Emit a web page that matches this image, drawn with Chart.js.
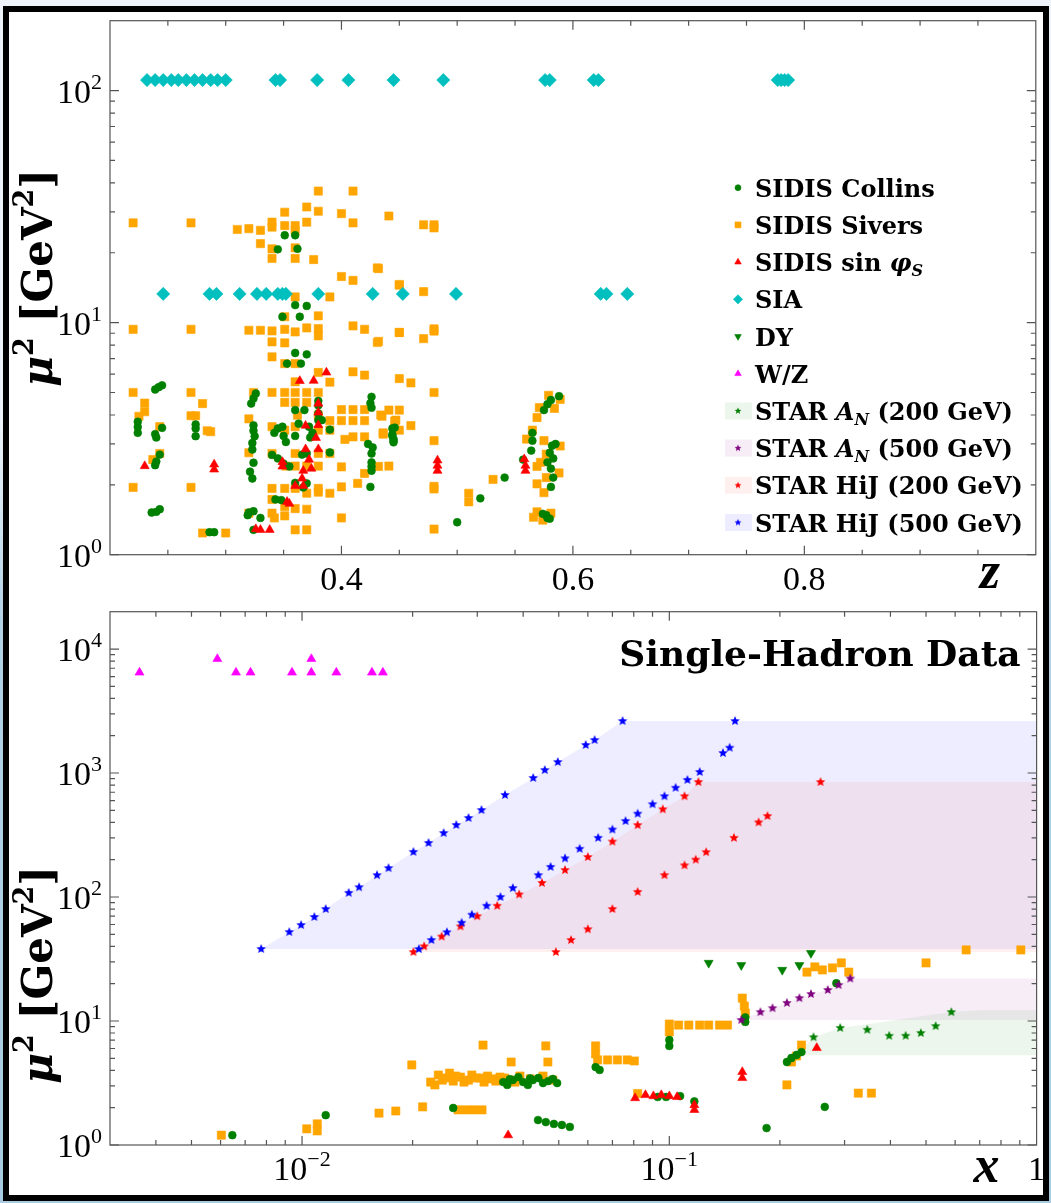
<!DOCTYPE html>
<html>
<head>
<meta charset="utf-8">
<script src="https://cdn.jsdelivr.net/npm/chart.js@4.4.0/dist/chart.umd.min.js"></script>
<style>
  html, body { margin: 0; padding: 0; }
  body { width: 1051px; height: 1203px; background: linear-gradient(#eef4f9 0, #eef4f9 420px, #b3d2e6 620px, #a8cbe1 100%); }
  #frame { position: absolute; left: 3px; top: 6px; width: 1034px; height: 1183px; border: 6px solid #000; background: #fff; }
  .panel { position: absolute; left: 0; width: 1034px; }
</style>
</head>
<body>
<div id="frame">
  <div class="panel" style="top:0;height:588px"><canvas id="zChart"></canvas></div>
  <div class="panel" style="top:588px;height:595px"><canvas id="xChart"></canvas></div>
</div>
<script>
// ---------------- upper panel: mu^2 against z ----------------
const collinsZ = [
  [0.351,23.8],[0.360,23.8],[0.345,20.7],[0.362,20.8],[0.360,11.9],[0.370,11.8],[0.349,10.6],[0.364,10.6],
  [0.360,7.4],[0.370,7.3],[0.353,6.66],[0.365,6.66],[0.239,5.15],[0.242,5.27],[0.245,5.37],[0.322,4.48],
  [0.324,4.71],[0.326,4.95],[0.380,4.60],[0.380,4.40],[0.360,4.20],[0.368,4.20],[0.380,4.06],[0.380,3.80],
  [0.383,3.80],[0.363,3.67],[0.390,3.46],[0.224,3.74],[0.224,3.55],[0.224,3.35],[0.239,3.31],[0.240,3.20],
  [0.245,3.52],[0.274,3.64],[0.274,3.50],[0.274,3.24],[0.324,3.61],[0.324,3.42],[0.325,3.24],[0.323,3.03],
  [0.323,2.84],[0.342,3.35],[0.345,3.50],[0.349,3.56],[0.350,3.25],[0.352,3.06],[0.360,3.25],[0.372,3.56],
  [0.375,3.35],[0.373,3.20],[0.340,2.69],[0.345,2.60],[0.350,2.47],[0.355,2.40],[0.366,2.70],[0.370,2.73],
  [0.390,2.76],[0.324,2.49],[0.321,2.28],[0.323,2.13],[0.426,4.79],[0.425,4.50],[0.426,4.30],[0.423,3.00],
  [0.427,2.90],[0.426,2.73],[0.426,2.50],[0.426,2.40],[0.426,2.30],[0.425,1.96],[0.444,3.50],[0.444,3.30],
  [0.445,3.10],[0.239,2.43],[0.240,2.52],[0.243,2.70],[0.360,2.04],[0.370,2.03],[0.367,1.95],[0.343,1.73],
  [0.348,1.72],[0.236,1.52],[0.240,1.53],[0.243,1.57],[0.320,1.52],[0.324,1.54],[0.319,1.48],[0.330,1.44],
  [0.286,1.25],[0.290,1.25],[0.324,1.28],[0.446,3.53],[0.444,3.25],[0.445,3.15],[0.445,3.05],[0.541,2.15],
  [0.520,1.75],[0.500,1.38],[0.565,3.35],[0.565,3.10],[0.564,2.81],[0.557,2.57],[0.581,4.64],[0.578,4.45],
  [0.575,4.20],[0.588,4.82],[0.582,2.95],[0.585,3.00],[0.580,2.75],[0.583,2.60],[0.578,2.50],[0.581,2.35],
  [0.583,2.15],[0.581,1.96],[0.574,1.50],[0.577,1.48],[0.578,1.44],[0.580,1.43]
];
const siversZ = [
  [0.220,26.9],[0.270,26.9],[0.310,25.2],[0.320,25.4],[0.330,25.0],[0.340,27.1],[0.340,25.8],[0.351,29.9],
  [0.351,26.2],[0.360,26.2],[0.360,25.0],[0.370,31.5],[0.370,27.1],[0.380,36.9],[0.380,30.2],[0.400,29.5],
  [0.410,36.9],[0.410,26.9],[0.441,28.8],[0.330,21.9],[0.340,20.8],[0.340,18.9],[0.360,21.0],[0.360,18.9],
  [0.376,18.7],[0.400,15.8],[0.410,15.2],[0.431,17.2],[0.450,14.5],[0.360,12.9],[0.390,12.9],[0.380,10.7],
  [0.351,10.6],[0.220,9.36],[0.270,9.36],[0.320,9.27],[0.330,9.27],[0.340,9.21],[0.351,9.36],[0.360,9.12],
  [0.370,9.49],[0.380,9.43],[0.380,8.77],[0.410,9.68],[0.420,9.36],[0.450,9.06],[0.340,8.26],[0.351,8.18],
  [0.431,8.21],[0.340,7.12],[0.351,6.66],[0.360,6.66],[0.380,6.10],[0.410,6.14],[0.420,5.94],[0.390,5.54],
  [0.450,5.74],[0.360,5.56],[0.220,5.00],[0.270,5.00],[0.230,4.50],[0.280,4.48],[0.324,5.00],[0.340,5.00],
  [0.351,5.00],[0.360,5.00],[0.370,5.00],[0.380,5.00],[0.351,4.53],[0.360,4.53],[0.370,4.53],[0.400,4.22],
  [0.410,4.22],[0.420,4.22],[0.441,4.20],[0.450,4.20],[0.230,4.13],[0.225,3.95],[0.270,3.97],[0.274,3.97],
  [0.320,3.85],[0.362,3.99],[0.380,3.99],[0.390,3.78],[0.400,3.78],[0.410,3.78],[0.420,3.78],[0.435,3.95],
  [0.446,3.76],[0.284,3.42],[0.287,3.39],[0.340,3.56],[0.360,3.56],[0.351,3.44],[0.380,3.44],[0.390,3.44],
  [0.410,3.22],[0.420,3.22],[0.403,3.14],[0.436,3.31],[0.450,3.44],[0.243,3.56],[0.243,2.73],[0.237,2.57],
  [0.320,2.75],[0.340,2.73],[0.360,2.73],[0.380,2.73],[0.390,2.73],[0.352,2.41],[0.360,2.41],[0.370,2.41],
  [0.380,2.41],[0.400,2.39],[0.420,2.24],[0.441,2.41],[0.340,1.93],[0.351,1.93],[0.360,1.93],[0.370,1.84],
  [0.380,1.93],[0.380,1.86],[0.390,1.84],[0.400,1.96],[0.414,2.03],[0.220,1.95],[0.270,1.95],[0.340,1.73],
  [0.351,1.61],[0.360,1.58],[0.370,1.57],[0.340,1.51],[0.342,1.44],[0.351,1.47],[0.400,1.44],[0.360,1.28],
  [0.370,1.28],[0.300,1.24],[0.280,1.24],[0.320,1.51],[0.471,26.4],[0.480,26.4],[0.480,25.6],[0.432,17.1],
  [0.450,14.6],[0.471,13.6],[0.450,9.08],[0.471,8.53],[0.480,9.40],[0.480,9.20],[0.432,8.30],[0.460,5.50],
  [0.480,5.00],[0.434,4.00],[0.447,3.80],[0.460,3.60],[0.436,3.35],[0.480,3.10],[0.432,2.40],[0.480,1.97],
  [0.480,1.92],[0.480,1.29],[0.531,2.11],[0.510,1.84],[0.510,1.69],[0.579,4.86],[0.589,4.67],[0.584,4.27],
  [0.571,4.30],[0.569,3.90],[0.565,3.44],[0.560,3.15],[0.575,3.10],[0.589,2.94],[0.577,2.71],[0.572,2.50],
  [0.569,2.40],[0.588,2.25],[0.577,2.15],[0.569,2.02],[0.575,1.85],[0.569,1.53],[0.566,1.45],[0.574,1.41],
  [0.581,1.51]
];
const sinPhiZ = [
  [0.364,5.61],[0.376,5.62],[0.387,6.10],[0.380,4.48],[0.380,4.10],[0.369,3.60],[0.380,3.62],[0.378,3.19],
  [0.380,2.85],[0.369,2.85],[0.372,2.57],[0.367,2.30],[0.374,2.35],[0.366,2.13],[0.360,1.98],[0.367,1.98],
  [0.349,2.51],[0.349,2.40],[0.353,1.69],[0.355,1.66],[0.230,2.41],[0.290,2.45],[0.290,2.33],[0.326,1.29],
  [0.330,1.28],[0.338,1.28],[0.483,2.55],[0.483,2.42],[0.483,2.30],[0.558,2.58],[0.559,2.42],[0.559,2.30]
];
// e+e- points sit at two fixed scales
const siaHighQ2 = 111;
const siaHighZ = [0.232,0.239,0.246,0.253,0.259,0.266,0.273,0.280,0.287,0.293,0.300,0.343,0.347,0.379,0.406,
  0.445,0.488,0.576,0.580,0.618,0.622,0.777,0.780,0.783,0.786];
const siaLowQ2 = 13.3;
const siaLowZ = [0.246,0.286,0.292,0.312,0.327,0.335,0.345,0.349,0.352,0.380,0.427,0.453,0.499,0.624,0.629,0.647];

// ---------------- lower panel: mu^2 against x ----------------
const collinsX = [
  [0.00646,1.20],[0.0116,1.74],[0.0353,3.22],[0.0375,3.34],[0.0400,3.22],[0.0425,3.34],[0.0453,3.16],[0.0482,3.41],
  [0.0362,3.05],[0.0388,3.53],[0.0412,3.05],[0.0440,3.47],[0.0468,3.28],[0.0495,3.16],[0.0368,3.40],[0.0418,3.45],
  [0.0439,1.59],[0.0461,1.53],[0.0485,1.48],[0.0510,1.45],[0.0536,1.40],[0.0630,4.25],[0.0646,4.03],[0.100,7.03],
  [0.100,6.29],[0.161,10.7],[0.161,9.83],[0.209,4.67],[0.215,5.03],[0.222,5.32],[0.229,5.62],[0.184,1.37],
  [0.285,20.2],[0.265,2.03],[0.0258,1.99],[0.093,2.44],[0.098,2.44],[0.107,2.48],[0.117,2.25]
];
const siversX = [
  [0.00603,1.20],[0.0103,1.35],[0.0110,1.48],[0.0110,1.30],[0.0162,1.81],[0.0180,1.88],[0.0213,2.03],[0.0199,4.42],
  [0.0224,3.22],[0.0235,3.67],[0.0247,3.47],[0.0258,3.28],[0.0270,3.53],[0.0284,3.34],[0.0298,3.47],[0.0313,3.22],
  [0.0329,3.41],[0.0346,3.53],[0.0368,3.34],[0.0392,3.60],[0.0418,3.41],[0.0453,3.60],[0.0482,3.34],
  [0.0230,3.05],[0.0241,3.34],[0.0252,3.80],[0.0262,3.60],[0.0276,3.22],[0.0290,3.67],[0.0305,3.47],[0.0320,3.60],
  [0.0337,3.28],[0.0356,3.47],[0.0380,3.22],
  [0.0266,1.92],[0.0280,1.92],[0.0294,1.92],[0.0309,1.92],[0.0311,6.40],[0.0371,4.67],[0.0461,6.29],[0.0467,4.67],
  [0.0630,6.29],[0.0630,5.42],[0.0638,4.85],[0.0679,4.85],[0.0722,4.85],[0.0768,4.85],[0.0803,4.76],
  [0.100,9.46],[0.100,8.15],[0.106,9.28],[0.113,9.28],[0.121,9.28],[0.128,9.28],[0.137,9.28],[0.144,9.28],
  [0.158,15.3],[0.160,13.2],[0.161,11.6],[0.209,3.05],[0.215,4.67],[0.222,5.22],[0.229,6.40],
  [0.237,24.8],[0.249,27.3],[0.261,25.8],[0.278,26.8],[0.294,29.4],[0.308,24.8],
  [0.500,29.4],[0.643,37.4],[0.906,37.4],[0.327,2.62],[0.355,2.62],[0.082,2.60]
];
const sinPhiX = [
  [0.0364,1.20],[0.0807,2.39],[0.0861,2.53],[0.0905,2.48],[0.0951,2.53],[0.100,2.48],[0.105,2.44],[0.117,2.10],
  [0.117,1.92],[0.158,3.88],[0.158,3.47],[0.252,6.06]
];
const wMass2 = 6464;
const wX = [0.00361,0.00661,0.00724,0.00939,0.0106,0.0124,0.0155,0.0166];
const zMass2 = 8315;
const zX = [0.00588,0.0106];
const dyX = [[0.128,29.4],[0.157,28.2],[0.203,25.8],[0.226,28.2],[0.243,35.3]];
const starAn200 = [[0.247,7.4],[0.292,8.8],[0.346,8.5],[0.397,7.6],[0.440,7.6],[0.484,8.0],[0.531,9.1],[0.586,11.8]];
const an200Edge = [[0.222,5.3],[0.247,7.4],[0.292,8.8],[0.586,11.8],[0.700,12.2]];
const starAn500 = [[0.157,10.2],[0.177,11.8],[0.191,12.7],[0.209,14.0],[0.226,15.3],[0.243,16.5],[0.270,17.8],[0.289,19.5],[0.311,22.0]];
const hij500Fwd = [[0.00774,38.1],[0.00923,52.2],[0.00994,59.4],[0.0108,69.0],[0.0116,80.0],[0.0134,108],[0.0143,120],
  [0.0160,150],[0.0172,171],[0.0201,231],[0.0221,273],[0.0243,328],[0.0263,381],[0.0284,434],[0.0308,503],
  [0.0357,665],[0.0426,912],[0.0458,1057],[0.0497,1227],[0.0592,1683],[0.0626,1846],[0.0746,2626]];
const hij500Mid = [[0.0208,38],[0.0225,45],[0.0248,52],[0.0272,62],[0.0290,72],[0.0318,85],[0.0347,100],[0.0375,118],
  [0.0440,150],[0.0475,175],[0.0520,205],[0.0570,245],[0.0640,300],[0.0700,350],[0.0760,410],[0.0820,470],
  [0.0900,560],[0.0970,650],[0.104,760],[0.112,880],[0.121,1020],[0.140,1450],[0.146,1600],[0.151,2626]];
const hij200Fwd = [[0.0201,36],[0.0215,40],[0.0240,48],[0.0270,58],[0.0300,70],[0.0340,85],[0.0390,105],[0.0450,130],
  [0.0520,165],[0.0600,210],[0.0700,280],[0.0820,380],[0.0960,510],[0.110,650],[0.120,846]];
const hij200Mid = [[0.0491,36],[0.0540,45],[0.0600,55],[0.0700,80],[0.0820,110],[0.0970,150],[0.110,180],
  [0.118,200],[0.126,230],[0.150,300],[0.175,400],[0.185,450],[0.258,846]];

// tick texts
const zTickText = ['0.4', '0.6', '0.8'];
const zTickVal = [0.4, 0.6, 0.8];
const topExp = ['0', '1', '2'];
const bottomYExp = ['0', '1', '2', '3', '4'];
const bottomXExp = ['\u22122', '\u22121'];
const legendNames = ['SIDIS Collins', 'SIDIS Sivers', 'SIDIS sin ', 'SIA', 'DY', 'W/Z',
  'STAR ', 'STAR ', 'STAR HiJ (200 GeV)', 'STAR HiJ (500 GeV)'];

const GREEN = '#008000', ORANGE = '#ffa500', RED = '#ff0000', CYAN = '#00bfbf',
  MAGENTA = '#ff00ff', PURPLE = '#800080', BLUE = '#0000ff';

const pts = arr => arr.map(p => ({ x: p[0], y: p[1] }));
const row = (xs, y) => xs.map(x => ({ x: x, y: y }));

function starImage(color, r) {
  const c = document.createElement('canvas');
  const s = Math.ceil(2 * r + 2);
  c.width = c.height = s;
  const g = c.getContext('2d');
  g.fillStyle = color;
  g.beginPath();
  for (let i = 0; i < 10; i++) {
    const rad = i % 2 ? r * 0.45 : r;
    const a = -Math.PI / 2 + i * Math.PI / 5;
    g.lineTo(s / 2 + rad * Math.cos(a), s / 2 + rad * Math.sin(a));
  }
  g.closePath();
  g.fill();
  return c;
}

// band spanned by a STAR set: its most forward line on the left, open to x = 1 on the right
function band(edge, all, xmax) {
  const ys = all.map(p => p[1]);
  const lo = Math.min(...ys), hi = Math.max(...ys);
  const left = edge.slice().sort((a, b) => a[1] - b[1]);
  return [...pts(left), { x: xmax, y: hi }, { x: xmax, y: lo }];
}

function logMinors(lo, hi) {
  const out = [];
  for (let e = Math.floor(Math.log10(lo)); e <= Math.ceil(Math.log10(hi)); e++)
    for (let m = 2; m <= 9; m++) {
      const v = m * Math.pow(10, e);
      if (v > lo * 1.0001 && v < hi * 0.9999) out.push(v);
    }
  return out;
}

const SERIF = '"Liberation Serif"';
const BOLD = '"DejaVu Serif"';
const tickFont = '34px ' + SERIF, supFont = '22px ' + SERIF;

function drawRich(ctx, parts, x, y, align) {
  let w = 0;
  parts.forEach(p => { ctx.font = p.font; p.w = ctx.measureText(p.text).width; w += p.w; });
  let cx = align === 'right' ? x - w : align === 'center' ? x - w / 2 : x;
  ctx.textAlign = 'left';
  ctx.textBaseline = 'alphabetic';
  parts.forEach(p => { ctx.font = p.font; ctx.fillText(p.text, cx, y + (p.dy || 0)); cx += p.w; });
}
const pow10 = e => [{ text: '10', font: tickFont }, { text: e, font: supFont, dy: -14 }];

// frame, inward ticks on all four sides, tick labels and axis names
const axisFrame = {
  id: 'axisFrame',
  afterDraw(chart, args, o) {
    const { ctx, chartArea: a, scales: { x, y } } = chart;
    ctx.save();
    ctx.strokeStyle = '#555';
    ctx.lineWidth = 1.2;
    ctx.strokeRect(a.left, a.top, a.right - a.left, a.bottom - a.top);
    const tx = (v, len) => {
      const p = x.getPixelForValue(v);
      ctx.beginPath();
      ctx.moveTo(p, a.bottom); ctx.lineTo(p, a.bottom - len);
      ctx.moveTo(p, a.top); ctx.lineTo(p, a.top + len);
      ctx.stroke();
    };
    const ty = (v, len) => {
      const p = y.getPixelForValue(v);
      ctx.beginPath();
      ctx.moveTo(a.left, p); ctx.lineTo(a.left + len, p);
      ctx.moveTo(a.right, p); ctx.lineTo(a.right - len, p);
      ctx.stroke();
    };
    o.xMajor.forEach(v => tx(v, 9));
    o.xMinor.forEach(v => tx(v, 5));
    o.yMajor.forEach(v => ty(v, 9));
    o.yMinor.forEach(v => ty(v, 5));

    ctx.fillStyle = '#000';
    o.xLabels.forEach(l => drawRich(ctx, l.parts, x.getPixelForValue(l.v), a.bottom + 35, 'center'));
    o.yLabels.forEach(l => drawRich(ctx, l.parts, a.left - 8, y.getPixelForValue(l.v) + 12, 'right'));

    // axis names
    drawRich(ctx, [{ text: o.xName, font: 'italic bold 52px ' + SERIF }], a.right - o.xNameDx, a.bottom + o.xNameDy, 'center');
    ctx.save();
    ctx.translate(a.left - 72, a.top + o.yNameDy);
    ctx.rotate(-Math.PI / 2);
    drawRich(ctx, [
      { text: '\u03bc', font: 'italic bold 42px ' + BOLD },
      { text: '2', font: 'bold 27px ' + BOLD, dy: -19 },
      { text: ' [GeV', font: 'bold 42px ' + BOLD },
      { text: '2', font: 'bold 27px ' + BOLD, dy: -19 },
      { text: ']', font: 'bold 42px ' + BOLD }
    ], 0, 14, 'center');
    ctx.restore();

    if (o.note) {
      drawRich(ctx, [{ text: o.note, font: 'bold 36px ' + BOLD }], a.right - 16, a.top + 54, 'right');
    }
    ctx.restore();
  }
};

const styles = {
  collins: { pointStyle: 'circle', color: GREEN, r: 3.9, lr: 3 },
  sivers: { pointStyle: 'rect', color: ORANGE, r: 5.8, lr: 4.2 },
  sinphi: { pointStyle: 'triangle', color: RED, r: 5.2, lr: 3.8 },
  sia: { pointStyle: 'rectRot', color: CYAN, r: 6.6, lr: 4.6 },
  dy: { pointStyle: 'triangle', rotation: 180, color: GREEN, r: 5.2, lr: 3.8 },
  wz: { pointStyle: 'triangle', color: MAGENTA, r: 5.2, lr: 3.8 },
  an200: { pointStyle: starImage(GREEN, 5), color: GREEN, legendImg: starImage(GREEN, 3.6), fill: 'rgba(0,128,0,0.07)' },
  an500: { pointStyle: starImage(PURPLE, 5), color: PURPLE, legendImg: starImage(PURPLE, 3.6), fill: 'rgba(128,0,128,0.07)' },
  hij200: { pointStyle: starImage(RED, 5), color: RED, legendImg: starImage(RED, 3.6), fill: 'rgba(255,0,0,0.06)' },
  hij500: { pointStyle: starImage(BLUE, 5), color: BLUE, legendImg: starImage(BLUE, 3.6), fill: 'rgba(0,0,255,0.07)' }
};

function scatterSet(key, data, order) {
  const s = styles[key];
  return {
    type: 'scatter', data: data, order: order,
    pointStyle: s.pointStyle, pointRotation: s.rotation || 0,
    pointRadius: s.r || 5, backgroundColor: s.color, borderColor: s.color, borderWidth: 0.6
  };
}
function bandSet(key, data, order) {
  return {
    type: 'line', data: data, order: order, fill: 'shape',
    backgroundColor: styles[key].fill, borderWidth: 0, pointRadius: 0, tension: 0
  };
}

const bL = 'bold 24px ' + BOLD, bI = 'italic bold 24px ' + BOLD, bS = 'italic bold 16px ' + BOLD;
const legendRows = [
  { key: 'collins', parts: [{ text: legendNames[0], font: bL }] },
  { key: 'sivers', parts: [{ text: legendNames[1], font: bL }] },
  { key: 'sinphi', parts: [{ text: legendNames[2], font: bL }, { text: '\u03c6', font: bI }, { text: 'S', font: bS, dy: 5 }] },
  { key: 'sia', parts: [{ text: legendNames[3], font: bL }] },
  { key: 'dy', parts: [{ text: legendNames[4], font: bL }] },
  { key: 'wz', parts: [{ text: legendNames[5], font: bL }] },
  { key: 'an200', parts: [{ text: legendNames[6], font: bL }, { text: 'A', font: bI }, { text: 'N', font: bS, dy: 5 }, { text: ' (200 GeV)', font: bL }] },
  { key: 'an500', parts: [{ text: legendNames[7], font: bL }, { text: 'A', font: bI }, { text: 'N', font: bS, dy: 5 }, { text: ' (500 GeV)', font: bL }] },
  { key: 'hij200', parts: [{ text: legendNames[8], font: bL }] },
  { key: 'hij500', parts: [{ text: legendNames[9], font: bL }] }
];

const legendBox = {
  id: 'legendBox',
  afterDraw(chart) {
    const { ctx, chartArea: a } = chart;
    ctx.save();
    legendRows.forEach((r, i) => {
      const s = styles[r.key];
      const cy = a.top + 167 + i * 37.2;
      const mx = a.left + 628;
      if (s.fill) {
        ctx.fillStyle = s.fill;
        ctx.fillRect(mx - 13, cy - 8.5, 27, 17);
        ctx.drawImage(s.legendImg, mx - s.legendImg.width / 2, cy - s.legendImg.height / 2);
      } else {
        ctx.fillStyle = s.color;
        ctx.strokeStyle = s.color;
        ctx.lineWidth = 0.6;
        Chart.helpers.drawPoint(ctx, { pointStyle: s.pointStyle, radius: s.lr, rotation: s.rotation || 0, borderWidth: 0.6 }, mx, cy);
      }
      ctx.fillStyle = '#000';
      drawRich(ctx, r.parts, mx + 17, cy + 9, 'left');
    });
    ctx.restore();
  }
};

const baseOptions = (xScale, yScale, frame, pad) => ({
  responsive: true,
  maintainAspectRatio: false,
  animation: false,
  events: [],
  layout: { padding: pad },
  scales: { x: Object.assign({ display: false }, xScale), y: Object.assign({ display: false }, yScale) },
  plugins: { legend: { display: false }, tooltip: { enabled: false }, axisFrame: frame }
});

// upper panel
new Chart('zChart', {
  type: 'scatter',
  data: {
    datasets: [
      scatterSet('sivers', pts(siversZ), 5),
      scatterSet('collins', pts(collinsZ), 4),
      scatterSet('sinphi', pts(sinPhiZ), 3),
      scatterSet('sia', row(siaHighZ, siaHighQ2).concat(row(siaLowZ, siaLowQ2)), 2)
    ]
  },
  options: baseOptions(
    { type: 'linear', min: 0.2, max: 1.0 },
    { type: 'logarithmic', min: 1, max: 200 },
    {
      xMajor: zTickVal, xMinor: [0.25, 0.3, 0.35, 0.45, 0.5, 0.55, 0.65, 0.7, 0.75, 0.85, 0.9, 0.95],
      yMajor: [1, 10, 100], yMinor: logMinors(1, 200),
      xLabels: zTickVal.map((v, i) => ({ v: v, parts: [{ text: zTickText[i], font: tickFont }] })),
      yLabels: topExp.map(e => ({ v: Math.pow(10, +e), parts: pow10(e) })),
      xName: 'z', xNameDx: 46, xNameDy: 33, yNameDy: 257
    },
    { left: 101, right: 1.5, top: 8.7, bottom: 45.3 }
  ),
  plugins: [axisFrame, legendBox]
});

// lower panel
const bottomX = [0.01, 0.1];
new Chart('xChart', {
  type: 'scatter',
  data: {
    datasets: [
      bandSet('hij500', band(hij500Fwd, hij500Fwd.concat(hij500Mid), 1), 20),
      bandSet('hij200', band(hij200Fwd, hij200Fwd.concat(hij200Mid), 1), 19),
      bandSet('an500', band(starAn500, starAn500, 1), 18),
      bandSet('an200', band(an200Edge, an200Edge.concat(starAn200), 1), 17),
      scatterSet('sivers', pts(siversX), 9),
      scatterSet('collins', pts(collinsX), 8),
      scatterSet('sinphi', pts(sinPhiX), 7),
      scatterSet('dy', pts(dyX), 6),
      scatterSet('wz', row(wX, wMass2).concat(row(zX, zMass2)), 5),
      scatterSet('an200', pts(starAn200), 4),
      scatterSet('an500', pts(starAn500), 3),
      scatterSet('hij200', pts(hij200Fwd.concat(hij200Mid)), 2),
      scatterSet('hij500', pts(hij500Fwd.concat(hij500Mid)), 1)
    ]
  },
  options: baseOptions(
    { type: 'logarithmic', min: 0.003, max: 1 },
    { type: 'logarithmic', min: 1, max: 20000 },
    {
      xMajor: bottomX, xMinor: logMinors(0.003, 1),
      yMajor: [1, 10, 100, 1000, 10000], yMinor: logMinors(1, 20000),
      xLabels: bottomX.map((v, i) => ({ v: v, parts: pow10(bottomXExp[i]) }))
        .concat([{ v: 1, parts: [{ text: '1', font: tickFont }] }]),
      yLabels: bottomYExp.map(e => ({ v: Math.pow(10, +e), parts: pow10(e) })),
      xName: 'x', xNameDx: 50, xNameDy: 37, yNameDy: 363,
      note: 'Single-Hadron Data'
    },
    { left: 101, right: 1.5, top: 11.7, bottom: 50 }
  ),
  plugins: [axisFrame]
});
</script>
</body>
</html>
